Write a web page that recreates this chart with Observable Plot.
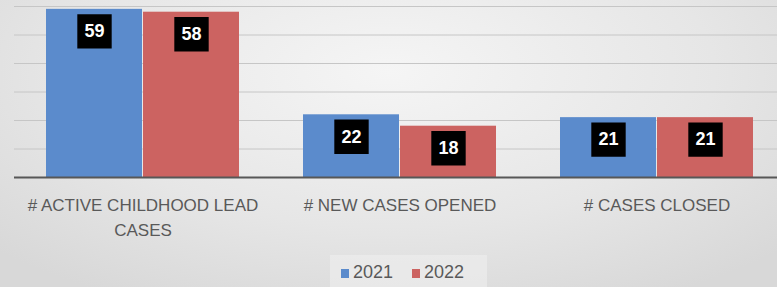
<!DOCTYPE html>
<html>
<head>
<meta charset="utf-8">
<script src="https://cdn.jsdelivr.net/npm/d3@7"></script>
<script src="https://cdn.jsdelivr.net/npm/@observablehq/plot@0.6"></script>
<style>
  html, body { margin: 0; padding: 0; }
  body {
    width: 777px; height: 287px; overflow: hidden; position: relative;
    background: radial-gradient(ellipse 70% 90% at 50% 25%, #f5f5f5 0%, #e6e6e6 60%, #d8d8d8 100%);
    font-family: "Liberation Sans", Arial, sans-serif;
  }
  #chart svg { display: block; background: transparent; }
  #legend {
    position: absolute; left: 330px; top: 255px; width: 157px; height: 32px;
    background: rgba(240,240,240,0.55);
    font-size: 18px; color: #595959;
  }
  #legend .sw { position: absolute; top: 14px; width: 8px; height: 9px; }
  #legend .lb { position: absolute; top: 7px; line-height: 20px; }
</style>
</head>
<body>
<div id="chart"></div>
<div id="legend">
  <span class="sw" style="left:11px;background:#5b8bcc"></span><span class="lb" style="left:23px">2021</span>
  <span class="sw" style="left:82px;background:#cc6361"></span><span class="lb" style="left:94px">2022</span>
</div>
<script>
const categories = ["# ACTIVE CHILDHOOD LEAD\nCASES", "# NEW CASES OPENED", "# CASES CLOSED"];
const years = ["2021", "2022"];
const values2021 = [59, 22, 21];
const values2022 = [58, 18, 21];
const colors = ["#5b8bcc", "#cc6361"];
const gridTicks = [10, 20, 30, 40, 50, 60];

const data = [];
categories.forEach((c, i) => {
  data.push({category: c, year: years[0], value: values2021[i]});
  data.push({category: c, year: years[1], value: values2022[i]});
});

const chart = Plot.plot({
  width: 777,
  height: 255,
  marginLeft: 14,
  marginRight: -8,
  marginTop: 6,
  marginBottom: 78,
  style: {background: "transparent", fontFamily: "Liberation Sans, Arial, sans-serif"},
  fx: {domain: categories, padding: 0},
  x: {domain: years, paddingInner: 0.015, paddingOuter: 0.32, axis: null},
  y: {domain: [0, 60], axis: null},
  color: {domain: years, range: colors},
  marks: [
    Plot.ruleY(gridTicks, {stroke: "#c6c6c6", strokeWidth: 1}),
    Plot.barY(data, {fx: "category", x: "year", y: "value", fill: "year"}),
    Plot.ruleY([0], {stroke: "#575757", strokeWidth: 2}),
    Plot.dot(data, {fx: "category", x: "year", y: "value", symbol: "square", r: 19.4, dy: 22, fill: "black", stroke: null}),
    Plot.text(data, {fx: "category", x: "year", y: "value", text: d => String(d.value), dy: 22, fill: "white", fontWeight: "bold", fontSize: 18, lineAnchor: "middle"}),
    Plot.axisFx({anchor: "bottom", tickSize: 0, tickPadding: 15, fontSize: 17, lineHeight: 1.5, color: "#595959", label: null, lineAnchor: "top"})
  ]
});
document.getElementById("chart").appendChild(chart);
</script>
</body>
</html>
